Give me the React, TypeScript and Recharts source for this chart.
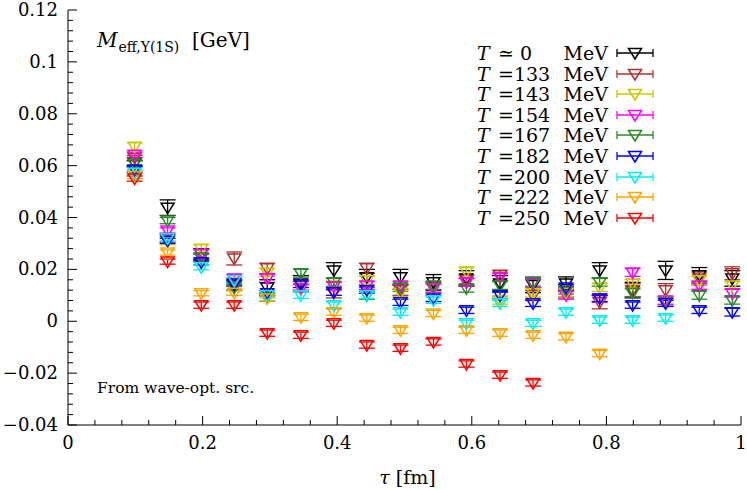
import { ScatterChart, Scatter, XAxis, YAxis, ErrorBar } from 'recharts';

// Euclidean time slices (fm)
const TAU = [0.099, 0.148, 0.198, 0.247, 0.296, 0.346, 0.395, 0.444, 0.494, 0.543, 0.592, 0.642, 0.691, 0.74, 0.79, 0.839, 0.888, 0.938, 0.987];

// M_eff per temperature, null = not shown
const M_T0 = [0.061, 0.0438, 0.026, 0.014, 0.013, 0.0146, 0.0196, 0.017, 0.017, 0.015, 0.0165, 0.0146, 0.014, 0.0146, 0.0196, 0.012, 0.0196, 0.0177, 0.0165];
const M_T133 = [0.063, 0.032, 0.0245, 0.0242, 0.0204, 0.014, 0.011, 0.0204, 0.012, 0.013, 0.0158, 0.0177, 0.01, 0.011, 0.0073, 0.012, 0.012, 0.0165, 0.0185];
const M_T143 = [0.0673, 0.031, 0.028, 0.015, 0.0188, 0.013, 0.0138, 0.0158, 0.011, 0.0127, 0.0192, 0.0081, 0.0108, 0.011, 0.013, 0.0146, 0.0081, 0.0158, 0.0138];
const M_T154 = [0.0642, 0.035, 0.026, 0.0165, 0.0165, 0.0127, 0.0135, 0.0138, 0.0138, 0.0127, 0.015, 0.017, 0.0146, 0.01, 0.0088, 0.0188, 0.008, 0.0138, 0.0108];
const M_T167 = [0.0608, 0.0388, 0.0246, 0.013, 0.0092, 0.0185, 0.015, 0.01, 0.013, 0.0138, 0.0127, 0.0138, 0.015, 0.012, 0.015, 0.011, 0.0073, 0.01, 0.0081];
const M_T182 = [0.0585, 0.031, 0.0227, 0.0146, 0.0108, 0.0142, 0.0112, 0.012, 0.0073, 0.0088, 0.0042, 0.01, 0.0069, 0.013, 0.0088, 0.0062, 0.0069, 0.0042, 0.0035];
const M_T200 = [0.0573, 0.032, 0.0208, 0.0158, 0.01, 0.01, 0.0062, 0.01, 0.0035, 0.0081, -0.0008, 0.0069, -0.0008, 0.0035, 0.0004, 0.0004, 0.0012, null, null];
const M_T222 = [0.056, 0.0265, 0.0108, 0.011, 0.0088, 0.0015, 0.0035, 0.0012, -0.0035, 0.003, -0.0035, -0.0046, -0.0054, -0.006, -0.0125, null, null, null, null];
const M_T250 = [0.055, 0.023, 0.0062, 0.0062, -0.0046, -0.0054, -0.0008, -0.0092, -0.0104, -0.008, -0.0165, -0.0208, -0.0238, null, null, null, null, null, null];

// error bars
const E_T0 = [0.001, 0.003, 0.002, 0.002, 0.003, 0.003, 0.003, 0.003, 0.003, 0.003, 0.003, 0.003, 0.003, 0.0025, 0.003, 0.003, 0.0035, 0.003, 0.003];
const E_T133 = [0.001, 0.0015, 0.0015, 0.0025, 0.002, 0.002, 0.002, 0.002, 0.002, 0.002, 0.002, 0.002, 0.002, 0.002, 0.0025, 0.0025, 0.0025, 0.0025, 0.0025];
const E_T143 = [0.0015, 0.0015, 0.0015, 0.0015, 0.0015, 0.0015, 0.0015, 0.0015, 0.0015, 0.0015, 0.0015, 0.0015, 0.0015, 0.0015, 0.0015, 0.0015, 0.0015, 0.0015, 0.0015];
const E_T154 = [0.001, 0.001, 0.0015, 0.0015, 0.0015, 0.0015, 0.0015, 0.0015, 0.0015, 0.0015, 0.0015, 0.0015, 0.0015, 0.0015, 0.0015, 0.0015, 0.0015, 0.0015, 0.0015];
const E_T167 = [0.001, 0.0012, 0.0012, 0.0012, 0.0015, 0.0015, 0.0015, 0.0015, 0.0015, 0.0015, 0.0015, 0.0015, 0.0015, 0.0015, 0.0015, 0.0015, 0.0015, 0.0015, 0.0015];
const E_T182 = [0.001, 0.001, 0.001, 0.001, 0.001, 0.0012, 0.0012, 0.0012, 0.0012, 0.0012, 0.0012, 0.0012, 0.0012, 0.0012, 0.0012, 0.0012, 0.0012, 0.0012, 0.0015];
const E_T200 = [0.001, 0.001, 0.001, 0.001, 0.001, 0.0012, 0.0012, 0.0012, 0.0012, 0.0012, 0.0012, 0.0012, 0.0012, 0.0012, 0.0012, 0.0012, 0.0012, 0, 0];
const E_T222 = [0.001, 0.001, 0.001, 0.001, 0.001, 0.0012, 0.0012, 0.0012, 0.0012, 0.0012, 0.0012, 0.0012, 0.0012, 0.0012, 0.0012, 0, 0, 0, 0];
const E_T250 = [0.001, 0.001, 0.0012, 0.0012, 0.0012, 0.0012, 0.0012, 0.0012, 0.0012, 0.0012, 0.0012, 0.0012, 0.0012, 0, 0, 0, 0, 0, 0];

const LEGEND_VALUES = ['\u2243 0', '=133', '=143', '=154', '=167', '=182', '=200', '=222', '=250'];
const COLORS = ['#000000', '#b03030', '#c8c800', '#ff00ff', '#2a8a2a', '#0000ff', '#00f0f0', '#ffa500', '#ff0000'];
const VALUES = [M_T0, M_T133, M_T143, M_T154, M_T167, M_T182, M_T200, M_T222, M_T250];
const ERRORS = [E_T0, E_T133, E_T143, E_T154, E_T167, E_T182, E_T200, E_T222, E_T250];

const X_MAJOR = [0, 0.2, 0.4, 0.6, 0.8, 1];
const X_LABELS = ['0', '0.2', '0.4', '0.6', '0.8', '1'];
const Y_MAJOR = [-0.04, -0.02, 0, 0.02, 0.04, 0.06, 0.08, 0.1, 0.12];
const Y_LABELS = ['\u22120.04', '\u22120.02', '0', '0.02', '0.04', '0.06', '0.08', '0.1', '0.12'];

const FONT = "'DejaVu Serif', serif";

const withMinor = (major: number[], n: number) => {
  const out: number[] = [];
  major.forEach((m, i) => {
    out.push(m);
    if (i < major.length - 1) {
      const step = (major[i + 1] - m) / n;
      for (let k = 1; k < n; k++) out.push(+(m + k * step).toFixed(5));
    }
  });
  return out;
};
const X_TICKS = withMinor(X_MAJOR, 5);
const Y_TICKS = withMinor(Y_MAJOR, 5);

const majorIdx = (major: number[], v: number) => major.findIndex(m => Math.abs(m - v) < 1e-6);

const series = VALUES.map((vals, s) => ({
  color: COLORS[s],
  label: LEGEND_VALUES[s],
  data: TAU.map((x, i) => (vals[i] == null ? null : { x, y: vals[i], err: ERRORS[s][i] })).filter(Boolean),
}));

const Tri = ({ cx, cy, color }: any) => (
  <path d={`M${cx - 6.5},${cy - 4.5} L${cx + 6.5},${cy - 4.5} L${cx},${cy + 6} Z`} fill="none" stroke={color} strokeWidth={1.5} />
);

const tickText = { fontFamily: FONT, fontSize: 18, fill: '#000' };

const XTick = ({ x, y, payload, top }: any) => {
  const idx = majorIdx(X_MAJOR, payload.value);
  const len = idx >= 0 ? 9 : 5;
  if (top) return <line x1={x} x2={x} y1={y} y2={y + len} stroke="#000" />;
  return (
    <g>
      <line x1={x} x2={x} y1={y} y2={y - len} stroke="#000" />
      {idx >= 0 && <text x={x} y={y + 24} textAnchor="middle" {...tickText}>{X_LABELS[idx]}</text>}
    </g>
  );
};

const YTick = ({ x, y, payload, right }: any) => {
  const idx = majorIdx(Y_MAJOR, payload.value);
  const len = idx >= 0 ? 9 : 5;
  if (right) return <line x1={x} x2={x - len} y1={y} y2={y} stroke="#000" />;
  return (
    <g>
      <line x1={x} x2={x + len} y1={y} y2={y} stroke="#000" />
      {idx >= 0 && <text x={x - 10} y={y + 6} textAnchor="end" {...tickText}>{Y_LABELS[idx]}</text>}
    </g>
  );
};

export default function App() {
  return (
    <div style={{ position: 'absolute', left: 0, top: 0, width: 747, height: 490, background: '#fff', fontFamily: FONT }}>
      <ScatterChart width={747} height={490} margin={{ top: 10, right: 6, left: 8, bottom: 35 }}>
        <XAxis type="number" dataKey="x" domain={[0, 1]} ticks={X_TICKS} interval={0} tickSize={0} tickMargin={0}
          axisLine={{ stroke: '#000' }} tick={<XTick />} height={30} allowDataOverflow />
        <XAxis xAxisId="top" orientation="top" type="number" domain={[0, 1]} ticks={X_TICKS} interval={0} tickSize={0} tickMargin={0}
          axisLine={{ stroke: '#000' }} tick={<XTick top />} height={0} allowDataOverflow />
        <YAxis type="number" dataKey="y" domain={[-0.04, 0.12]} ticks={Y_TICKS} interval={0} tickSize={0} tickMargin={0}
          axisLine={{ stroke: '#000' }} tick={<YTick />} width={60} allowDataOverflow />
        <YAxis yAxisId="right" orientation="right" type="number" domain={[-0.04, 0.12]} ticks={Y_TICKS} interval={0} tickSize={0} tickMargin={0}
          axisLine={{ stroke: '#000' }} tick={<YTick right />} width={0} allowDataOverflow />
        {series.map((s, i) => (
          <Scatter key={i} data={s.data as any[]} dataKey="y" isAnimationActive={false}
            shape={(p: any) => <Tri cx={p.cx} cy={p.cy} color={s.color} />}>
            <ErrorBar dataKey="err" direction="y" width={8} stroke={s.color} strokeWidth={1.3} />
          </Scatter>
        ))}
      </ScatterChart>

      <div style={{ position: 'absolute', left: 97, top: 28, fontSize: 20, whiteSpace: 'nowrap', lineHeight: '24px' }}>
        <i>M</i><sub style={{ fontSize: 14, marginLeft: 1 }}>eff,&Upsilon;(1S)</sub>&nbsp; [GeV]
      </div>
      <div style={{ position: 'absolute', left: 97, top: 378, fontSize: 15.5, whiteSpace: 'nowrap', lineHeight: '20px' }}>From wave-opt. src.</div>
      <div style={{ position: 'absolute', left: 0, width: 747, paddingLeft: 68, boxSizing: 'border-box', top: 466, fontSize: 19, lineHeight: '22px', textAlign: 'center' }}>
        <i>&tau;</i> [fm]
      </div>

      {series.map((s, i) => (
        <div key={i} style={{ position: 'absolute', left: 474, top: 43 + i * 20.6, height: 20, width: 180, fontSize: 19, lineHeight: '20px', whiteSpace: 'nowrap' }}>
          <i style={{ position: 'absolute', left: 3 }}>T</i>
          <span style={{ position: 'absolute', left: 24 }}>{s.label}</span>
          <span style={{ position: 'absolute', right: 46 }}>MeV</span>
          <svg width={38} height={20} style={{ position: 'absolute', left: 142, top: 0 }}>
            <line x1={1} x2={37} y1={10} y2={10} stroke={s.color} strokeWidth={1.3} />
            <line x1={1} x2={1} y1={6} y2={14} stroke={s.color} strokeWidth={1.3} />
            <line x1={37} x2={37} y1={6} y2={14} stroke={s.color} strokeWidth={1.3} />
            <Tri cx={19} cy={10} color={s.color} />
          </svg>
        </div>
      ))}
    </div>
  );
}
